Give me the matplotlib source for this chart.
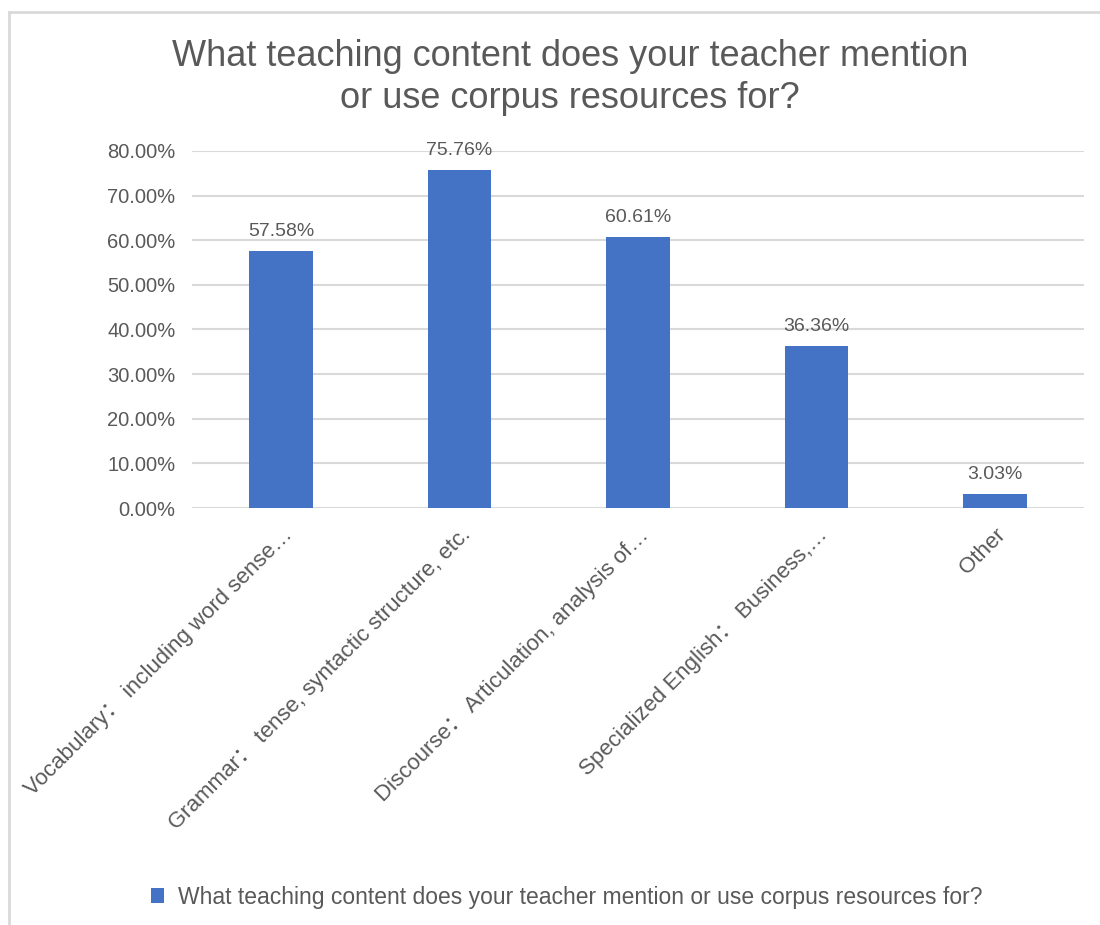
import matplotlib
matplotlib.use("Agg")
import matplotlib.pyplot as plt
from matplotlib.lines import Line2D
from matplotlib.ticker import PercentFormatter
from matplotlib.transforms import ScaledTranslation

plt.rcParams['font.family'] = ['Liberation Sans', 'Noto Sans CJK SC', 'DejaVu Sans']

title = "What teaching content does your teacher mention\nor use corpus resources for?"
series_name = "What teaching content does your teacher mention or use corpus resources for?"
categories = [
    "Vocabulary： including word sense…",
    "Grammar： tense, syntactic structure, etc.",
    "Discourse： Articulation, analysis of…",
    "Specialized English： Business,…",
    "Other",
]
values = [57.58, 75.76, 60.61, 36.36, 3.03]
yticks = [0, 10, 20, 30, 40, 50, 60, 70, 80]

text_c = '#595959'
bar_c = '#4472C4'
grid_c = '#d9d9d9'

fig = plt.figure(figsize=(11, 9.25), dpi=100)
ax = fig.add_axes([0.1745, 0.4508, 0.811, 0.386])

x = range(len(categories))
bars = ax.bar(x, values, width=0.355, color=bar_c, label=series_name, zorder=3)
ax.bar_label(bars, labels=[f"{v:.2f}%" for v in values], padding=8,
             fontsize=14, color=text_c)

ax.set_xlim(-0.5, len(categories) - 0.5)
ax.set_ylim(0, 80)
ax.set_yticks(yticks)
ax.yaxis.set_major_formatter(PercentFormatter(decimals=2))
ax.grid(axis='y', color=grid_c, linewidth=1.5, zorder=0)
for s in ax.spines.values():
    s.set_visible(False)
ax.axhline(0, color=grid_c, linewidth=2, zorder=2)

ax.tick_params(axis='y', length=0, pad=12, labelsize=14.5, labelcolor=text_c)
ax.tick_params(axis='x', length=0, pad=10, labelsize=16, labelcolor=text_c)
ax.set_xticks(list(x))
ax.set_xticklabels(categories, rotation=45, ha='right', va='center',
                   rotation_mode='anchor')
for lbl in ax.get_xticklabels():
    lbl.set_transform(lbl.get_transform() +
                      ScaledTranslation(0.08, -0.1, fig.dpi_scale_trans))

fig.text(0.518, 0.916, title, ha='center', va='center', fontsize=26,
         color=text_c, linespacing=1.25)

fig.legend(handles=[bars], labels=[series_name], loc='center',
           bbox_to_anchor=(0.515, 0.03), frameon=False, fontsize=16.5,
           labelcolor=text_c, handlelength=0.6, handleheight=0.6,
           handletextpad=0.6)

# chart frame (left and top edges visible in the reference)
fig.add_artist(Line2D([9 / 1100, 9 / 1100], [0, 1 - 12 / 925],
                      transform=fig.transFigure, color=grid_c, linewidth=2))
fig.add_artist(Line2D([9 / 1100, 1], [1 - 12 / 925, 1 - 12 / 925],
                      transform=fig.transFigure, color=grid_c, linewidth=2))

fig.savefig("out.png", dpi=100)
